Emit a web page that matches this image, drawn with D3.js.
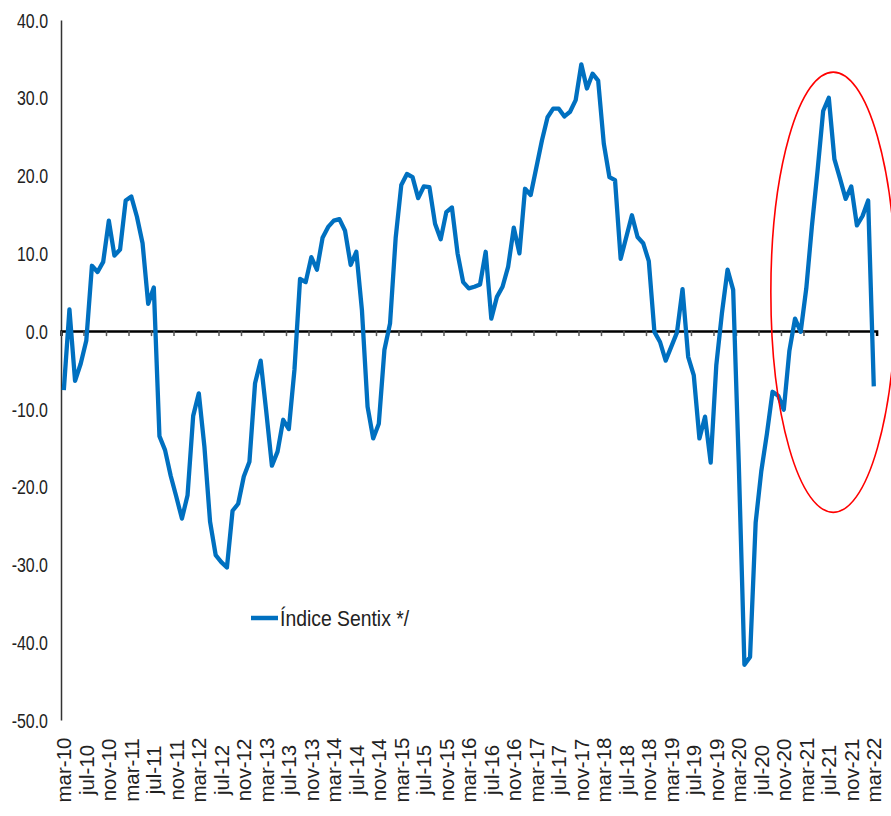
<!DOCTYPE html>
<html>
<head>
<meta charset="utf-8">
<script src="https://cdn.jsdelivr.net/npm/d3@7"></script>
<style>
  body { margin: 0; background: #fff; }
  svg { display: block; font-family: "Liberation Sans", Arial, sans-serif; }
</style>
</head>
<body>
<svg id="chart" width="891" height="816"></svg>
<script>
// Índice Sentix, mensual, mar-10 .. mar-22
const sentix = [
  -7.6, 2.8, -6.4, -4.2, -1.2, 8.4, 7.6, 8.9, 14.2, 9.7, 10.5, 16.8,
  17.3, 14.7, 11.3, 3.5, 5.6, -13.5, -15.3, -18.6, -21.3, -24.1, -21.1, -10.9,
  -8.0, -14.9, -24.5, -28.8, -29.7, -30.4, -23.1, -22.2, -18.7, -16.8, -6.7, -3.8,
  -10.4, -17.3, -15.5, -11.4, -12.6, -5.0, 6.7, 6.3, 9.5, 7.9, 12.0, 13.4,
  14.2, 14.4, 12.9, 8.5, 10.2, 2.7, -9.7, -13.8, -11.9, -2.4, 1.0, 12.0,
  18.8, 20.2, 19.8, 17.1, 18.6, 18.5, 13.8, 11.8, 15.3, 15.9, 10.0, 6.3,
  5.5, 5.7, 6.0, 10.2, 1.6, 4.4, 5.7, 8.3, 13.3, 10.0, 18.3, 17.5,
  21.0, 24.5, 27.5, 28.6, 28.6, 27.6, 28.2, 29.7, 34.3, 31.2, 33.1, 32.2,
  24.1, 19.8, 19.4, 9.3, 12.1, 14.9, 12.1, 11.3, 9.0, -0.1, -1.4, -3.8,
  -2.0, -0.2, 5.4, -3.3, -5.7, -13.8, -11.0, -16.9, -4.4, 2.3, 7.9, 5.3,
  -17.1, -42.9, -41.9, -24.6, -18.0, -13.2, -7.8, -8.3, -10.1, -2.5, 1.6, -0.1,
  5.5, 13.5, 20.6, 28.3, 30.0, 22.1, 19.6, 17.0, 18.6, 13.6, 14.8, 16.8,
  -7.1
];

// una etiqueta cada 4 meses
const tickLabels = [
  "mar-10", "jul-10", "nov-10", "mar-11", "jul-11", "nov-11", "mar-12", "jul-12", "nov-12",
  "mar-13", "jul-13", "nov-13", "mar-14", "jul-14", "nov-14", "mar-15", "jul-15", "nov-15",
  "mar-16", "jul-16", "nov-16", "mar-17", "jul-17", "nov-17", "mar-18", "jul-18", "nov-18",
  "mar-19", "jul-19", "nov-19", "mar-20", "jul-20", "nov-20", "mar-21", "jul-21", "nov-21",
  "mar-22"
];
const labelStep = 4;

const yTicks = [-50, -40, -30, -20, -10, 0, 10, 20, 30, 40];
const seriesName = "Índice Sentix */";

// elipse roja (en meses / puntos del índice)
const highlightCenter = [136.8, 5.0];
const highlightRadius = [11.1, 28.3];

const svg = d3.select("#chart");
svg.append("rect").attr("width", 891).attr("height", 816).attr("fill", "#fff");

const x = d3.scaleLinear()
    .domain([-0.5, sentix.length - 0.5])
    .range([61, 876.6]);

const y = d3.scaleLinear()
    .domain([-50, 40])
    .range([720, 20]);

// eje Y (guion normal, no el signo menos de d3.format)
const yAxis = svg.append("g")
    .attr("transform", `translate(${x(-0.5)},0)`)
    .call(d3.axisLeft(y).tickValues(yTicks).tickSize(0).tickFormat(d => d.toFixed(1)));
yAxis.select(".domain").attr("stroke", "#333").attr("stroke-width", 1.5);
yAxis.selectAll("text")
    .attr("font-size", 21)
    .attr("fill", "#222")
    .attr("x", -13 / 0.76)
    .attr("dy", "0.34em")
    .attr("transform", "scale(0.76,1)");

// línea del cero con marcas cada 4 meses
const tickIdx = d3.range(0, sentix.length, labelStep).map(i => i - 0.5);
const xAxis = svg.append("g")
    .attr("transform", `translate(0,${y(0)})`)
    .call(d3.axisBottom(x).tickValues(tickIdx).tickSize(5).tickFormat(""));
xAxis.select(".domain").attr("stroke", "#000").attr("stroke-width", 2.5);
xAxis.selectAll(".tick line").attr("stroke", "#555").attr("stroke-width", 1.5);

// etiquetas de meses, giradas
svg.append("g")
    .selectAll("text")
    .data(tickLabels)
    .enter().append("text")
    .attr("transform", (d, k) => `translate(${x(k * labelStep)},770) rotate(-90)`)
    .attr("text-anchor", "middle")
    .attr("dominant-baseline", "central")
    .attr("font-size", 20.5)
    .attr("fill", "#222")
    .text(d => d);

// serie
const line = d3.line()
    .x((d, i) => x(i))
    .y(d => y(d));

svg.append("path")
    .datum(sentix)
    .attr("fill", "none")
    .attr("stroke", "#0070C0")
    .attr("stroke-width", 4.3)
    .attr("stroke-linejoin", "round")
    .attr("d", line);

// elipse roja
const cx = x(highlightCenter[0]);
const cy = y(highlightCenter[1]);
svg.append("ellipse")
    .attr("cx", cx)
    .attr("cy", cy)
    .attr("rx", x(highlightCenter[0] + highlightRadius[0]) - cx)
    .attr("ry", y(highlightCenter[1] - highlightRadius[1]) - cy)
    .attr("fill", "none")
    .attr("stroke", "#ff0000")
    .attr("stroke-width", 1.6);

// leyenda
const legend = svg.append("g").attr("transform", "translate(251,618)");
legend.append("line")
    .attr("x1", 0).attr("x2", 27)
    .attr("stroke", "#0070C0")
    .attr("stroke-width", 4.5);
legend.append("text")
    .attr("transform", "translate(29,0) scale(0.88,1)")
    .attr("dy", "0.36em")
    .attr("font-size", 22)
    .attr("fill", "#222")
    .text(seriesName);
</script>
</body>
</html>
